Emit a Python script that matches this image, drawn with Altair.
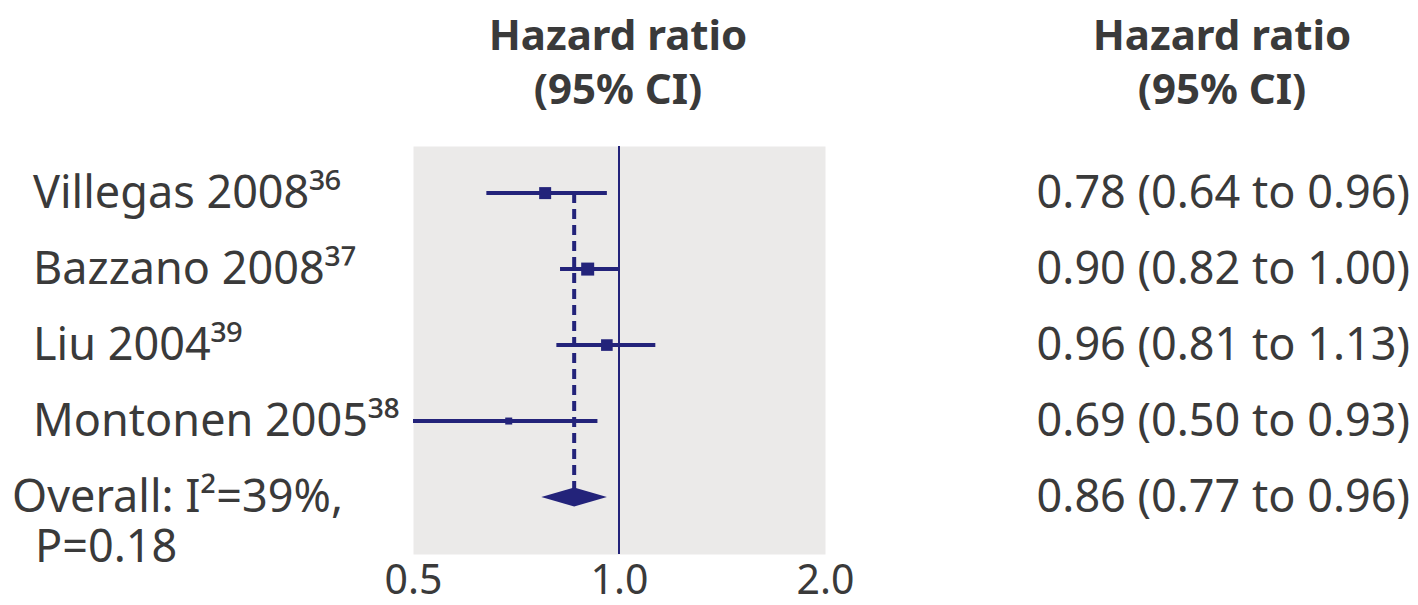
import altair as alt
import pandas as pd

# ---- data ----
studies = ["Villegas 2008", "Bazzano 2008", "Liu 2004", "Montonen 2005"]
refs = ["³⁶", "³⁷", "³⁹", "³⁸"]
hr = [0.78, 0.90, 0.96, 0.69]
lo = [0.64, 0.82, 0.81, 0.50]
hi = [0.96, 1.00, 1.13, 0.93]
marker_area = [144, 169, 135, 49]
overall_hr = 0.86
overall_lo = 0.77
overall_hi = 0.96
overall_label = "Overall: I²=39%,"
overall_p = "P=0.18"
header_lines = ["Hazard ratio", "(95% CI)"]
tick_values = [0.5, 1.0, 2.0]
null_effect = [1.0]

NAVY = "#23237a"
TEXT = "#3a3a3a"
FONT = "Noto Sans"
W, H = 412, 408

rows = list(range(len(studies)))
overall_row = len(studies)

df = pd.DataFrame({
    "row": rows,
    "label": [s + r for s, r in zip(studies, refs)],
    "hr": hr, "lo": lo, "hi": hi, "w": marker_area,
    "ci": [f"{h:.2f} ({l:.2f} to {u:.2f})" for h, l, u in zip(hr, lo, hi)],
})
ov = pd.DataFrame({
    "row": [overall_row], "hr": [overall_hr], "lo": [overall_lo], "hi": [overall_hi],
    "label": [overall_label], "p": [overall_p],
    "ci": [f"{overall_hr:.2f} ({overall_lo:.2f} to {overall_hi:.2f})"],
})
half = 0.125
diamond = pd.DataFrame({
    "x": [overall_lo, overall_hr, overall_hi],
    "y": [overall_row, overall_row - half, overall_row],
    "y2": [overall_row, overall_row + half, overall_row],
})
dash = pd.DataFrame({"x": [overall_hr], "y": [0], "y2": [overall_row]})
refdf = pd.DataFrame({"x": null_effect})
hdr = pd.DataFrame({"t1": [header_lines[0]], "t2": [header_lines[1]]})


def X(field):
    return alt.X(field, type="quantitative", title=None,
                 scale=alt.Scale(type="log", domain=[0.5, 2.0], nice=False),
                 axis=alt.Axis(values=tick_values, format=".1f", ticks=False, domain=False,
                               grid=False, labelFontSize=41, labelColor=TEXT,
                               labelFont=FONT, labelPadding=7, labelFlush=False))


def Y(field):
    return alt.Y(field, type="quantitative", title=None,
                 scale=alt.Scale(domain=[-0.62, 4.75], reverse=True, nice=False, zero=False),
                 axis=None)


base = alt.Chart(df)

ci = base.mark_rule(color=NAVY, strokeWidth=4).encode(x=X("lo"), x2="hi:Q", y=Y("row"))
pts = base.mark_point(shape="square", filled=True, color=NAVY, opacity=1).encode(
    x=X("hr"), y=Y("row"),
    size=alt.Size("w:Q", scale=alt.Scale(domain=[0, 200], range=[0, 200]), legend=None),
)
ref = alt.Chart(refdf).mark_rule(color=NAVY, strokeWidth=2).encode(x=X("x"))
dashed = alt.Chart(dash).mark_rule(color=NAVY, strokeWidth=4, strokeDash=[10, 6]).encode(
    x=X("x"), y=Y("y"), y2="y2:Q")
dia = alt.Chart(diamond).mark_area(color=NAVY, orient="vertical", opacity=1).encode(
    x=X("x"), y=Y("y"), y2="y2:Q")

tstyle = dict(baseline="alphabetic", fontSize=45, font=FONT, color=TEXT)
lab = base.mark_text(align="left", dy=15, **tstyle).encode(
    x=alt.value(-380), y=Y("row"), text="label:N")
cit = base.mark_text(align="right", dy=15, **tstyle).encode(
    x=alt.value(997), y=Y("row"), text="ci:N")

ovc = alt.Chart(ov)
ovl = ovc.mark_text(align="left", dy=15, **tstyle).encode(
    x=alt.value(-401), y=Y("row"), text="label:N")
ovp = ovc.mark_text(align="left", dy=65, **tstyle).encode(
    x=alt.value(-378), y=Y("row"), text="p:N")
ovci = ovc.mark_text(align="right", dy=15, **tstyle).encode(
    x=alt.value(997), y=Y("row"), text="ci:N")

hc = alt.Chart(hdr)
hstyle = dict(align="center", baseline="alphabetic", fontSize=42, fontWeight="bold",
              font=FONT, color=TEXT)
h1 = hc.mark_text(**hstyle).encode(x=alt.value(205), y=alt.value(-96), text="t1:N")
h2 = hc.mark_text(**hstyle).encode(x=alt.value(205), y=alt.value(-42), text="t2:N")
h3 = hc.mark_text(**hstyle).encode(x=alt.value(809), y=alt.value(-96), text="t1:N")
h4 = hc.mark_text(**hstyle).encode(x=alt.value(809), y=alt.value(-42), text="t2:N")

chart = alt.layer(
    ref, dashed, ci, pts, dia, lab, cit, ovl, ovp, ovci, h1, h2, h3, h4
).properties(
    width=W, height=H,
    background="white",
    autosize=alt.AutoSizeParams(type="none"),
    padding={"left": 413, "top": 146, "right": 1418 - 413 - W, "bottom": 605 - 146 - H},
).configure_view(fill="#ebeae9", strokeOpacity=0)

chart.save("out.html", embed_options={"renderer": "svg", "actions": False})
